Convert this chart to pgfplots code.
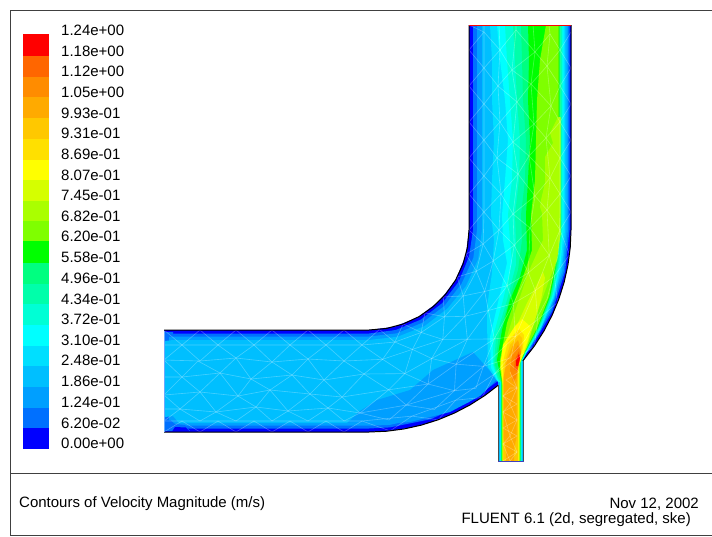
\documentclass[border=0pt]{standalone}
\usepackage{pgfplots}
\pgfplotsset{compat=1.18}
\usepackage{fontspec}
\setmainfont{Liberation Sans}
\definecolor{c0}{HTML}{0000FF}
\definecolor{c1}{HTML}{0070FF}
\definecolor{c2}{HTML}{009FFF}
\definecolor{c3}{HTML}{00BFFF}
\definecolor{c4}{HTML}{00DFFF}
\definecolor{c5}{HTML}{00FFFF}
\definecolor{c6}{HTML}{00FFD5}
\definecolor{c7}{HTML}{00FFAA}
\definecolor{c8}{HTML}{00FF80}
\definecolor{c9}{HTML}{00FF00}
\definecolor{c10}{HTML}{7FFF00}
\definecolor{c11}{HTML}{AAFF00}
\definecolor{c12}{HTML}{D5FF00}
\definecolor{c13}{HTML}{FFFF00}
\definecolor{c14}{HTML}{FFE000}
\definecolor{c15}{HTML}{FFC800}
\definecolor{c16}{HTML}{FFAA00}
\definecolor{c17}{HTML}{FF8C00}
\definecolor{c18}{HTML}{FF6600}
\definecolor{c19}{HTML}{FF0000}
\pgfplotsset{/pgfplots/table/duct/.style={
 row sep=\\,
 x expr={\thisrow{s}<=0 ? 369+\thisrow{s} : (\thisrow{s}<=90 ? 369+\thisrow{r}*sin(\thisrow{s}) : 369+\thisrow{r})},
 y expr={\thisrow{s}<=0 ? 230+\thisrow{r} : (\thisrow{s}<=90 ? 230+\thisrow{r}*cos(\thisrow{s}) : 230-(\thisrow{s}-90))}},
 meshline/.style={white,opacity=0.28,line width=0.6pt}}
\newcommand{\tf}{\fontsize{15}{16}\selectfont}
\newcommand{\lab}[3]{\node[anchor=base west,inner sep=0pt,font=\tf] at (axis cs:#1,#2) {#3};}
\begin{document}
\begin{tikzpicture}
\begin{axis}[width=712pt,height=536pt,scale only axis,xmin=0,xmax=712,ymin=0,ymax=536,y dir=reverse,
 axis lines=none,clip=true]
\addplot[fill=white,draw=none] coordinates {(0,0)(712,0)(712,536)(0,536)} --cycle;
% colour bar
\addplot[fill=c19,draw=none] coordinates {(23,34)(48.5,34)(48.5,55.7)(23,55.7)} --cycle;
\addplot[fill=c18,draw=none] coordinates {(23,55.7)(48.5,55.7)(48.5,76.6)(23,76.6)} --cycle;
\addplot[fill=c17,draw=none] coordinates {(23,76.6)(48.5,76.6)(48.5,97)(23,97)} --cycle;
\addplot[fill=c16,draw=none] coordinates {(23,97)(48.5,97)(48.5,118)(23,118)} --cycle;
\addplot[fill=c15,draw=none] coordinates {(23,118)(48.5,118)(48.5,138.7)(23,138.7)} --cycle;
\addplot[fill=c14,draw=none] coordinates {(23,138.7)(48.5,138.7)(48.5,159.5)(23,159.5)} --cycle;
\addplot[fill=c13,draw=none] coordinates {(23,159.5)(48.5,159.5)(48.5,180)(23,180)} --cycle;
\addplot[fill=c12,draw=none] coordinates {(23,180)(48.5,180)(48.5,201)(23,201)} --cycle;
\addplot[fill=c11,draw=none] coordinates {(23,201)(48.5,201)(48.5,221)(23,221)} --cycle;
\addplot[fill=c10,draw=none] coordinates {(23,221)(48.5,221)(48.5,241)(23,241)} --cycle;
\addplot[fill=c9,draw=none] coordinates {(23,241)(48.5,241)(48.5,263)(23,263)} --cycle;
\addplot[fill=c8,draw=none] coordinates {(23,263)(48.5,263)(48.5,283.5)(23,283.5)} --cycle;
\addplot[fill=c7,draw=none] coordinates {(23,283.5)(48.5,283.5)(48.5,304)(23,304)} --cycle;
\addplot[fill=c6,draw=none] coordinates {(23,304)(48.5,304)(48.5,325)(23,325)} --cycle;
\addplot[fill=c5,draw=none] coordinates {(23,325)(48.5,325)(48.5,345.5)(23,345.5)} --cycle;
\addplot[fill=c4,draw=none] coordinates {(23,345.5)(48.5,345.5)(48.5,366)(23,366)} --cycle;
\addplot[fill=c3,draw=none] coordinates {(23,366)(48.5,366)(48.5,387)(23,387)} --cycle;
\addplot[fill=c2,draw=none] coordinates {(23,387)(48.5,387)(48.5,407.5)(23,407.5)} --cycle;
\addplot[fill=c1,draw=none] coordinates {(23,407.5)(48.5,407.5)(48.5,428)(23,428)} --cycle;
\addplot[fill=c0,draw=none] coordinates {(23,428)(48.5,428)(48.5,449)(23,449)} --cycle;
% duct base
\addplot[fill=c0,draw=none] table[duct] {
s r\\ -205 100\\ 0 100\\ 15 100\\ 30 100\\ 45 100\\ 60 100\\ 75 100\\ 90 100\\ 295 100\\ 295 202\\ 90 202\\ 84 202\\ 78 202\\ 72 202\\ 66 202\\ 60 202\\ 54 202\\ 48 202\\ 42 202\\ 36 202\\ 30 202\\ 24 202\\ 18 202\\ 12 202\\ 6 202\\ 0 202\\ -205 202\\
} --cycle;
% inlet base
\addplot[fill=c3,draw=none] coordinates {(498,370)(523,360)(523,461)(498,461)} --cycle;
\addplot[fill=c1,draw=none] table[duct] {
s r\\ -205 103.5\\ 0 103.5\\ 15 103.5\\ 30 103.5\\ 45 103.5\\ 60 103.5\\ 75 103.5\\ 90 104\\ 295 104\\ 295 200.5\\ 90 200.5\\ 78 200.5\\ 66 200.5\\ 54 200.5\\ 42 199\\ 30 199\\ 18 199\\ 6 198.5\\ 0 198.5\\ -205 198.5\\
} --cycle;
\addplot[fill=c2,draw=none] table[duct] {
s r\\ -200 106.5\\ 0 106.5\\ 15 107\\ 30 107\\ 45 107\\ 60 107\\ 75 108\\ 90 108\\ 295 108\\ 295 199\\ 90 199\\ 78 199\\ 66 199\\ 54 199\\ 42 196.5\\ 30 196\\ 18 196\\ 6 196\\ 0 195.7\\ -200 195.7\\
} --cycle;
\addplot[fill=c3,draw=none] table[duct] {
s r\\ -204 111\\ -196 110\\ 0 110\\ 15 110.5\\ 30 111\\ 45 111\\ 60 112\\ 75 113\\ 90 113\\ 295 113\\ 295 197.5\\ 90 197.5\\ 78 197.5\\ 66 197.5\\ 54 197.5\\ 42 193\\ 30 192\\ 18 192\\ 6 192.5\\ 0 193\\ -190 193\\ -196 186\\ -204 187\\
} --cycle;
% corner patches at the left end
\addplot[fill=c1,draw=none] coordinates {(165,332)(173,332)(173,336)(167,337)(165,341)} --cycle;
\addplot[fill=c1,draw=none] coordinates {(165,431)(190,431)(185,425)(175,424)(170,420)(165,424)} --cycle;
\addplot[fill=c0,draw=none] coordinates {(172,431.5)(190,431.5)(186,427.5)(175,427)} --cycle;
% darker region near outer wall
\addplot[fill=c2,draw=none] coordinates {(347,423)(360,411)(377,400)(410,390)(433,370)(473,352)(497,379)(480,396)(450,412)(410,422)(370,425)} --cycle;
% contour levels in the outlet and the jet
\addplot[fill=c4,draw=none] coordinates {(490,25)(492,60)(492,100)(494,140)(492,180)(491,215)(494,240)(492,273)(487,307)(487,323)(488,367)(497,381)(500.2,381)(500.2,461)(521.8,461)(521.8,362)(526.5,353.1)(540.8,329.2)(554.3,297.4)(562,264)(565,230)(565,25)} --cycle;
\addplot[fill=c5,draw=none] coordinates {(497,25)(500,60)(505,100)(508,140)(505,180)(502,215)(503,240)(507,263)(497,307)(490,337)(491,368)(498,382)(500.5,382)(500.5,461)(521.4,461)(521.4,362)(526.1,352.8)(540,328.8)(553.2,297)(560.5,263.8)(563.5,230)(563.5,25)} --cycle;
\addplot[fill=c6,draw=none] coordinates {(505,25)(507,60)(510,100)(513,140)(512,180)(508,215)(510,240)(512,263)(503,300)(493,337)(493,365)(498,380)(500.8,382)(500.8,461)(521.1,461)(521.1,362)(525.8,352.5)(539.5,328.5)(552.4,296.8)(559.6,263.6)(562.5,230)(562.5,25)} --cycle;
\addplot[fill=c7,draw=none] coordinates {(513,25)(515,60)(517,100)(520,140)(519,180)(515,215)(516,240)(516,265)(507,300)(496,337)(494,365)(498,378)(501,382)(501,461)(520.8,461)(520.8,362)(525.6,352.3)(539,328.2)(551.7,296.5)(558.6,263.4)(561.5,230)(561.5,25)} --cycle;
\addplot[fill=c8,draw=none] coordinates {(521,25)(522,60)(523,100)(526,140)(525,180)(521,215)(522,240)(518,270)(509,300)(499,335)(495,365)(499,376)(501.3,382)(501.3,461)(520.5,461)(520.5,362)(525.3,352.1)(538.5,327.9)(550.9,296.2)(557.6,263.2)(560.5,230)(560.5,25)} --cycle;
\addplot[fill=c9,draw=none] coordinates {(528,25)(529,60)(528,100)(530,140)(528,180)(526,215)(527,250)(520,277)(510,300)(502,330)(497,360)(500,374)(501.6,382)(501.6,461)(520.2,461)(520.2,362)(525,351.9)(538,327.6)(550.2,295.9)(556.6,263.1)(559.5,230)(559.5,25)} --cycle;
\addplot[fill=c10,draw=none] coordinates {(546,25)(540,60)(537,100)(536,140)(535,180)(531,215)(532,250)(523,277)(515,300)(507,323)(500,360)(502,374)(502,461)(520,461)(520,362)(524.7,351.7)(537.4,327.3)(549.4,295.7)(555.6,262.9)(558.5,230)(558.5,25)} --cycle;
\addplot[fill=c11,draw=none] coordinates {(558,117)(550,133)(553,143)(545,157)(545,183)(541,200)(540,207)(542,213)(543,240)(537,253)(528,273)(520,297)(512,320)(503,350)(500,367)(502.4,385)(502.4,461)(519.6,461)(519.6,362)(527,347)(537,313)(548,283)(557,260)(560.5,235)(560.5,213)(541,206)(560.5,213)(560.5,117)} --cycle;
\addplot[fill=c12,draw=none] coordinates {(543,272)(534,290)(527,303)(517,325)(507,345)(501,365)(502.8,385)(502.8,461)(519.2,461)(519.2,365)(527,345)(535,320)(541,300)(545,278)} --cycle;
\addplot[fill=c13,draw=none] coordinates {(522,319)(515,326)(503,345)(500.5,363)(503,385)(503,461)(518.8,461)(518.8,365)(522,357)(528,340)(531,327)} --cycle;
\addplot[fill=c14,draw=none] coordinates {(519,329)(508,341)(503,362)(503.2,385)(503.2,461)(518.4,461)(518.4,362)(523,348)(524,335)} --cycle;
\addplot[fill=c15,draw=none] coordinates {(519,335)(510,345)(505,362)(503.3,385)(503.3,461)(518,461)(518,362)(522,348)(522,338)} --cycle;
\addplot[fill=c16,draw=none] coordinates {(518,340)(512,347)(507,360)(503.5,378)(503.5,437)(506,450)(506,461)(514,461)(514,450)(516.5,437)(516.5,385)(518,364)(521,350)} --cycle;
\addplot[fill=c17,draw=none] coordinates {(518,345)(512,355)(510,370)(513,382)(516,378)(519,364)(521,352)} --cycle;
\addplot[fill=c18,draw=none] coordinates {(519,351)(515,359)(514,369)(517,371)(520,360)} --cycle;
\addplot[fill=c19,draw=none] coordinates {(519,354)(516,361)(516,366)(518,366)(520,358)} --cycle;
% mesh
\addplot[meshline] table[duct] {
s r\\ -205 100\\ -187 115\\ -169 100\\ -151 115\\ -133 100\\ -115 115\\ -97 100\\ -79 115\\ -61 100\\ -43 115\\ -25 100\\ -7 115\\ 6 100\\ 13 115\\ 20 100\\ 27 115\\ 34 100\\ 41 115\\ 48 100\\ 55 115\\ 62 100\\ 69 115\\ 76 100\\ 83 115\\ 90 100\\ 108 115\\ 126 100\\ 144 115\\ 162 100\\ 180 115\\ 198 100\\ 216 115\\ 234 100\\ 252 115\\ 270 100\\ 288 115\\ 295 100\\
};
\addplot[meshline] table[duct] {
s r\\ -205 130\\ -187 115\\ -169 131\\ -151 115\\ -133 128\\ -115 115\\ -97 132\\ -79 115\\ -61 129\\ -43 115\\ -25 131\\ -7 115\\ 6 130\\ 13 115\\ 20 127\\ 27 115\\ 34 132\\ 41 115\\ 48 129\\ 55 115\\ 62 131\\ 69 115\\ 76 128\\ 83 115\\ 90 130\\ 108 115\\ 126 132\\ 144 115\\ 162 128\\ 180 115\\ 198 131\\ 216 115\\ 234 129\\ 252 115\\ 270 131\\ 288 115\\
};
\addplot[meshline] table[duct] {
s r\\ -205 130\\ -187 147\\ -171 131\\ -149 143\\ -133 128\\ -118 149\\ -97 132\\ -77 145\\ -61 129\\ -45 150\\ -25 131\\ -5 144\\ 6 130\\ 14 148\\ 20 127\\ 26 143\\ 34 132\\ 42 147\\ 48 129\\ 56 144\\ 62 131\\ 68 149\\ 76 128\\ 84 146\\ 90 130\\ 106 144\\ 126 132\\ 146 149\\ 162 128\\ 178 144\\ 198 131\\ 218 148\\ 234 129\\ 250 143\\ 270 131\\ 290 147\\
};
\addplot[meshline] table[duct] {
s r\\ -205 165\\ -187 147\\ -169 162\\ -149 143\\ -131 166\\ -118 149\\ -99 160\\ -77 145\\ -59 164\\ -45 150\\ -27 167\\ -5 144\\ 7 161\\ 14 148\\ 21 165\\ 26 143\\ 33 160\\ 42 147\\ 49 166\\ 56 144\\ 63 162\\ 68 149\\ 75 165\\ 84 146\\ 92 161\\ 106 144\\ 124 166\\ 146 149\\ 164 160\\ 178 144\\ 196 165\\ 218 148\\ 236 162\\ 250 143\\ 268 166\\ 290 147\\
};
\addplot[meshline] table[duct] {
s r\\ -205 165\\ -189 179\\ -169 162\\ -153 182\\ -131 166\\ -113 177\\ -99 160\\ -81 181\\ -59 164\\ -41 178\\ -27 167\\ -9 183\\ 7 161\\ 12 179\\ 21 165\\ 28 182\\ 33 160\\ 40 178\\ 49 166\\ 54 181\\ 63 162\\ 70 177\\ 75 165\\ 82 182\\ 92 161\\ 110 178\\ 124 166\\ 142 181\\ 164 160\\ 182 177\\ 196 165\\ 214 182\\ 236 162\\ 254 178\\ 268 166\\ 286 181\\
};
\addplot[meshline] table[duct] {
s r\\ -205 191\\ -189 179\\ -169 191\\ -153 182\\ -133 191\\ -113 177\\ -97 191\\ -81 181\\ -61 191\\ -41 178\\ -25 191\\ -9 183\\ 6 191\\ 12 179\\ 20 191\\ 28 182\\ 34 191\\ 40 178\\ 48 191\\ 54 181\\ 62 191\\ 70 177\\ 76 191\\ 82 182\\ 90 191\\ 110 178\\ 126 191\\ 142 181\\ 162 191\\ 182 177\\ 198 191\\ 214 182\\ 234 191\\ 254 178\\ 270 191\\ 286 181\\
};
\addplot[meshline] table[duct] {
s r\\ -205 202\\ -187 191\\ -169 202\\ -151 191\\ -133 202\\ -115 191\\ -97 202\\ -79 191\\ -61 202\\ -43 191\\ -25 202\\ -7 191\\ 6 202\\ 13 191\\ 20 202\\ 27 191\\ 34 202\\ 41 191\\ 55 202\\ 62 191\\ 69 202\\ 76 191\\ 83 202\\ 90 191\\ 108 202\\ 126 191\\ 144 202\\ 162 191\\ 180 202\\ 198 191\\ 216 202\\ 234 191\\ 252 202\\ 270 191\\ 288 202\\
};
\addplot[meshline] table[duct] {
s r\\ -205 115\\ -115 115\\ -7 115\\ 13 115\\ 27 115\\ 41 115\\ 55 115\\ 69 115\\ 83 115\\ 108 115\\ 295 115\\
};
\addplot[meshline] table[duct] {
s r\\ -205 130\\ -169 131\\ -133 128\\ -97 132\\ -61 129\\ -25 131\\ 6 130\\ 20 127\\ 34 132\\ 48 129\\ 62 131\\ 76 128\\ 90 130\\ 126 132\\ 162 128\\ 198 131\\ 234 129\\ 270 131\\ 295 130\\
};
\addplot[meshline] table[duct] {
s r\\ -205 147\\ -187 147\\ -149 143\\ -118 149\\ -77 145\\ -45 150\\ -5 144\\ 14 148\\ 26 143\\ 42 147\\ 56 144\\ 68 149\\ 84 146\\ 106 144\\ 146 149\\ 178 144\\ 218 148\\ 250 143\\ 290 147\\ 295 147\\
};
\addplot[meshline] table[duct] {
s r\\ -205 165\\ -169 162\\ -131 166\\ -99 160\\ -59 164\\ -27 167\\ 7 161\\ 21 165\\ 33 160\\ 49 166\\ 63 162\\ 75 165\\ 92 161\\ 124 166\\ 164 160\\ 196 165\\ 236 162\\ 268 166\\ 295 164\\
};
\addplot[meshline] table[duct] {
s r\\ -205 179\\ -189 179\\ -153 182\\ -113 177\\ -81 181\\ -41 178\\ -9 183\\ 12 179\\ 28 182\\ 40 178\\ 54 181\\ 70 177\\ 82 182\\ 110 178\\ 142 181\\ 182 177\\ 214 182\\ 254 178\\ 286 181\\ 295 180\\
};
\addplot[meshline] table[duct] {
s r\\ -205 191\\ -115 191\\ -7 191\\ 13 191\\ 27 191\\ 41 191\\ 55 191\\ 69 191\\ 83 191\\ 108 191\\ 295 191\\
};
\addplot[meshline] coordinates {(503,461)(517,452)(503,444)(517,436)(503,428)(517,420)(503,412)(517,404)(503,396)(517,388)(506,380)(519,372)(510,364)};
\addplot[meshline] coordinates {(510,461)(503,444)(510,436)(503,412)(510,404)(503,396)(510,388)(517,388)(510,372)};
\addplot[meshline] coordinates {(510,461)(517,452)(510,436)(517,420)(510,404)(517,388)};
% walls
\addplot[black,line width=1pt] table[duct] {
s r\\ -205 100\\ 0 100\\ 10 100\\ 20 100\\ 30 100\\ 40 100\\ 50 100\\ 60 100\\ 70 100\\ 80 100\\ 90 100\\ 295 100\\
};
\addplot[black,line width=1pt] table[duct] {
s r\\ -205 202\\ 0 202\\ 5 202\\ 10 202\\ 15 202\\ 20 202\\ 25 202\\ 30 202\\ 35 202\\ 39.8 202\\
};
\addplot[black,line width=1pt] table[duct] {
s r\\ 49.6 202\\ 55 202\\ 60 202\\ 65 202\\ 70 202\\ 75 202\\ 80 202\\ 85 202\\ 90 202\\ 295 202\\
};
\addplot[black!70,line width=0.8pt] coordinates {(498.3,385)(498.3,461)};
\addplot[black!70,line width=0.8pt] coordinates {(523.3,361)(523.3,461)};
\addplot[blue!50!gray,line width=1pt] coordinates {(498,461)(523.5,461)};
\addplot[red,line width=1pt] coordinates {(469,25)(571,25)};
\addplot[c1!60!white,line width=1pt] coordinates {(164,331)(164,432)};
% frame
\addplot[black!75,line width=0.9pt] coordinates {(712,10.5)(10.5,10.5)(10.5,535)(712,535)};
\addplot[black!75,line width=0.9pt] coordinates {(10.5,473)(712,473)};
% labels
\lab{61}{35.5}{1.24e+00}
\lab{61}{56}{1.18e+00}
\lab{61}{76.5}{1.12e+00}
\lab{61}{97}{1.05e+00}
\lab{61}{118}{9.93e-01}
\lab{61}{138.5}{9.31e-01}
\lab{61}{159}{8.69e-01}
\lab{61}{180}{8.07e-01}
\lab{61}{200}{7.45e-01}
\lab{61}{221}{6.82e-01}
\lab{61}{241.5}{6.20e-01}
\lab{61}{262}{5.58e-01}
\lab{61}{283}{4.96e-01}
\lab{61}{304}{4.34e-01}
\lab{61}{324}{3.72e-01}
\lab{61}{345}{3.10e-01}
\lab{61}{365.5}{2.48e-01}
\lab{61}{386}{1.86e-01}
\lab{61}{407}{1.24e-01}
\lab{61}{428}{6.20e-02}
\lab{61}{448}{0.00e+00}
\lab{19}{507}{Contours of Velocity Magnitude (m/s)}
\node[anchor=base east,inner sep=0pt,font=\tf] at (axis cs:699,508) {Nov 12, 2002};
\node[anchor=base east,inner sep=0pt,font=\tf] at (axis cs:691,523) {FLUENT 6.1 (2d, segregated, ske)};
\end{axis}
\end{tikzpicture}
\end{document}
